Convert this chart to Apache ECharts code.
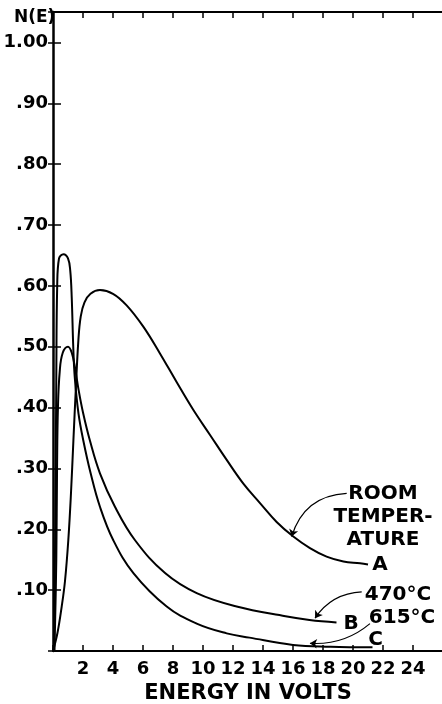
<!DOCTYPE html>
<html><head><meta charset="utf-8">
<script src="https://cdn.jsdelivr.net/npm/echarts@6/dist/echarts.min.js"></script>
<style>html,body{margin:0;padding:0;background:#fff}#c{width:442px;height:704px}</style>
</head><body><div id="c"></div>
<script>
// ---- data ----
const xTickLabels = ['', '2', '4', '6', '8', '10', '12', '14', '16', '18', '20', '22', '24', ''];
const yTickLabels = ['', '.10', '.20', '.30', '.40', '.50', '.60', '.70', '.80', '.90', '1.00'];

// A: room temperature
const energyA = [0, 0.3, 0.58, 0.8, 1.02, 1.2, 1.36, 1.52, 1.69, 1.85, 2.1, 2.5, 3.13, 4.0, 4.91, 6.02, 7.13, 8.24, 9.36, 10.47, 11.58, 12.69, 13.8, 14.91, 16.02, 17.13, 18.24, 19.36, 20.47, 21.0];
const countA  = [0, 0.03, 0.073, 0.115, 0.182, 0.26, 0.346, 0.43, 0.51, 0.55, 0.573, 0.587, 0.593, 0.587, 0.568, 0.533, 0.489, 0.442, 0.396, 0.355, 0.314, 0.275, 0.243, 0.212, 0.188, 0.169, 0.155, 0.147, 0.144, 0.142];
// B: 470 C
const energyB = [0.1, 0.22, 0.27, 0.33, 0.45, 0.65, 1.0, 1.25, 1.47, 1.7, 2.0, 2.47, 3.13, 4.13, 5.47, 7.47, 9.58, 12.24, 15.5, 17.1, 18.9];
const countB  = [0, 0.15, 0.30, 0.40, 0.46, 0.49, 0.50, 0.49, 0.465, 0.43, 0.392, 0.345, 0.292, 0.237, 0.182, 0.128, 0.095, 0.073, 0.057, 0.051, 0.047];
// C: 615 C
const energyC = [0.05, 0.15, 0.22, 0.28, 0.4, 0.7, 1.0, 1.15, 1.25, 1.35, 1.45, 1.7, 2.02, 2.51, 3.13, 4.02, 5.36, 7.58, 9.58, 11.58, 13.1, 16.0, 18.5, 21.3];
const countC  = [0, 0.20, 0.45, 0.60, 0.645, 0.652, 0.645, 0.625, 0.58, 0.50, 0.45, 0.39, 0.346, 0.292, 0.237, 0.182, 0.128, 0.073, 0.045, 0.029, 0.022, 0.010, 0.007, 0.006];

const curveNames = ['ROOM\nTEMPER-\nATURE', 'A', '470°C', 'B', '615°C', 'C'];

// ---- chart ----
const zip = (xs, ys) => xs.map((x, i) => [x, ys[i]]);
const FONT = 'DejaVu Sans';
const lineStyle = { color: '#000', width: 2 };
const curve = (name, xs, ys) => ({
  name, type: 'line', data: zip(xs, ys), smooth: 0.4,
  showSymbol: false, symbol: 'none', lineStyle, clip: false, z: 3
});

const notes = [
  { value: [22.0, 0.221], name: curveNames[0] },
  { value: [21.8, 0.141], name: curveNames[1] },
  { value: [23.0, 0.092], name: curveNames[2] },
  { value: [19.87, 0.045], name: curveNames[3] },
  { value: [23.27, 0.054], name: curveNames[4] },
  { value: [21.5, 0.018], name: curveNames[5] }
];
const leaders = [
  { coords: [[19.58, 0.259], [15.91, 0.188]], lineStyle: { curveness: -0.35 } },
  { coords: [[20.58, 0.097], [17.47, 0.054]], lineStyle: { curveness: -0.25 } },
  { coords: [[21.13, 0.045], [17.13, 0.0126]], lineStyle: { curveness: 0.2 } }
];

const chart = echarts.init(document.getElementById('c'), null, { renderer: 'canvas' });
const axisLabelStyle = { color: '#000', fontFamily: FONT, fontWeight: 'bold', fontSize: 18 };
chart.setOption({
  backgroundColor: '#fff',
  animation: false,
  grid: { left: 53, right: -1, top: 12, bottom: 53, containLabel: false, outerBoundsMode: 'none' },
  xAxis: [{
    type: 'value', min: 0, max: 26, interval: 2, position: 'bottom',
    name: 'ENERGY IN VOLTS', nameLocation: 'middle', nameGap: 25,
    nameTextStyle: { color: '#000', fontFamily: FONT, fontWeight: 'bold', fontSize: 21 },
    axisLine: { show: true, onZero: false, lineStyle: { color: '#000', width: 2 } },
    axisTick: { show: true, inside: true, length: 6, lineStyle: { color: '#000', width: 1.5 } },
    axisLabel: { ...axisLabelStyle, margin: 9, formatter: v => xTickLabels[Math.round(v / 2)] || '' },
    splitLine: { show: false }
  }, {
    type: 'value', min: 0, max: 26, interval: 2, position: 'top',
    axisLine: { show: true, onZero: false, lineStyle: { color: '#000', width: 2 } },
    axisTick: { show: true, inside: true, length: 6, lineStyle: { color: '#000', width: 1.5 } },
    axisLabel: { show: false }, splitLine: { show: false }
  }],
  yAxis: [{
    type: 'value', min: 0, max: 1.05, interval: 0.1, position: 'left',
    axisLine: { show: true, onZero: false, lineStyle: { color: '#000', width: 2.5 } },
    axisTick: { show: true, inside: true, length: 8, lineStyle: { color: '#000', width: 1.5 } },
    axisLabel: { ...axisLabelStyle, margin: 5, formatter: v => yTickLabels[Math.round(v * 10)] || '' },
    splitLine: { show: false }
  }, {
    type: 'value', min: 0, max: 1.05, interval: 0.1, position: 'right',
    axisLine: { show: false },
    axisTick: { show: true, inside: true, length: 5, lineStyle: { color: '#000', width: 1.5 } },
    axisLabel: { show: false }, splitLine: { show: false }
  }],
  graphic: [{
    type: 'text', left: 14, top: 9,
    style: { text: 'N(E)', fill: '#000', font: 'bold 17px "DejaVu Sans"' }
  }],
  series: [
    curve('A', energyA, countA),
    curve('B', energyB, countB),
    curve('C', energyC, countC),
    {
      type: 'lines', coordinateSystem: 'cartesian2d', polyline: false,
      symbol: ['none', 'arrow'], symbolSize: 7,
      lineStyle: { color: '#000', width: 1.2, opacity: 1 },
      data: leaders, z: 4
    },
    {
      type: 'scatter', symbolSize: 0, itemStyle: { color: '#000', opacity: 1 },
      data: notes, z: 5,
      label: {
        show: true, position: 'inside', formatter: '{b}', color: '#000', opacity: 1,
        fontFamily: FONT, fontWeight: 'bold', fontSize: 20, lineHeight: 23,
        align: 'center', verticalAlign: 'middle'
      }
    }
  ]
});
</script></body></html>
